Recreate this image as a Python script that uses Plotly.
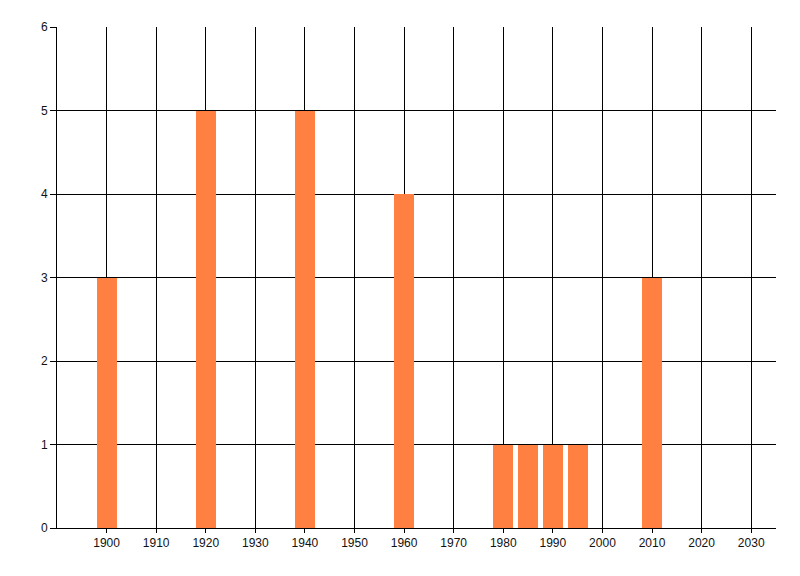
import plotly.graph_objects as go

years = [1900, 1920, 1940, 1960, 1980, 1985, 1990, 1995, 2010]
counts = [3, 5, 5, 4, 1, 1, 1, 1, 3]
x_ticks = list(range(1900, 2031, 10))
y_ticks = [0, 1, 2, 3, 4, 5, 6]

fig = go.Figure()
fig.add_trace(go.Bar(x=years, y=counts, width=4,
                     marker=dict(color='#FF8040', line_width=0)))

axis_font = dict(family='Liberation Sans, Arial, sans-serif', size=12, color='#111')

fig.update_xaxes(range=[1890, 2035], tickvals=x_ticks, ticktext=[str(t) for t in x_ticks],
                 showgrid=True, gridcolor='black', gridwidth=1,
                 showline=True, linecolor='black', linewidth=1,
                 ticks='outside', ticklen=4, tickcolor='black',
                 tickfont=axis_font, zeroline=False)
fig.update_yaxes(range=[0, 6], tickvals=y_ticks,
                 showgrid=True, gridcolor='black', gridwidth=1,
                 showline=True, linecolor='black', linewidth=1,
                 ticks='outside', ticklen=6, tickcolor='black',
                 tickfont=axis_font, zeroline=False)
# page body adds 8px offset, so shift margins to compensate
fig.update_layout(width=800, height=576,
                  margin=dict(l=49, r=32, t=19, b=56),
                  paper_bgcolor='white', plot_bgcolor='white',
                  showlegend=False, bargap=0)

fig.write_html("out.html")
